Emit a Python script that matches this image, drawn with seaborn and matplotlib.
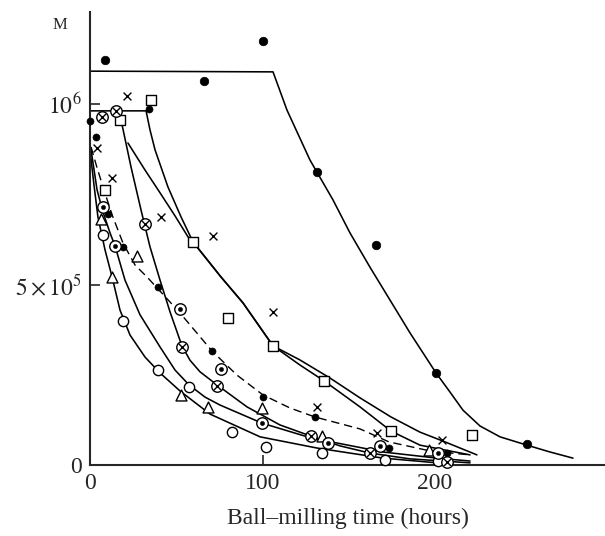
import matplotlib
matplotlib.use("Agg")
import matplotlib.pyplot as plt
import seaborn as sns

# values: hours, M in units of 1e5
# ---- drawn curves ----
top_hr = [0, 106.1, 114.2, 127.5, 140.9, 150.7, 162.3, 173.9, 185.5, 200.6, 208.7, 216.2, 226.1, 237.7, 253.3, 266.7, 280.0]
top_m = [10.91, 10.89, 9.83, 8.45, 7.34, 6.43, 5.48, 4.57, 3.66, 2.55, 2.02, 1.52, 1.08, 0.78, 0.55, 0.36, 0.19]

sq_hr = [0, 32.5, 34.8, 37.7, 45.2, 52.8, 59.7, 75.9, 88.7, 106.1, 121.7, 135.7, 156.5, 174.5, 191.3, 220.3]
sq_m = [9.81, 9.81, 9.28, 8.73, 7.70, 6.87, 6.18, 5.21, 4.49, 3.30, 2.77, 2.33, 1.61, 0.94, 0.55, 0.28]

cr_hr = [22.0, 31.9, 40.6, 49.3, 56.8, 59.7, 75.9, 88.7, 106.1, 121.7, 139.1, 156.5, 174.5, 191.3, 205.8, 224.3]
cr_m = [8.92, 8.17, 7.54, 6.90, 6.32, 6.18, 5.21, 4.49, 3.30, 2.91, 2.41, 1.86, 1.33, 0.91, 0.64, 0.28]

ox_hr = [18.6, 23.8, 29.6, 34.8, 40.6, 46.4, 53.3, 58.0, 63.8, 73.6, 91.0, 110.1, 128.1, 144.9, 162.3, 185.5, 220.3]
ox_m = [9.42, 8.25, 7.06, 6.04, 5.12, 4.24, 3.30, 2.90, 2.58, 2.22, 1.61, 1.11, 0.80, 0.53, 0.33, 0.17, 0.06]

da_hr = [0.6, 4.1, 8.1, 12.8, 19.1, 26.1, 33.0, 39.4, 52.2, 70.7, 85.2, 100.3, 115.9, 130.4, 156.5, 173.3, 197.1, 220.3]
da_m = [8.81, 8.23, 7.62, 6.93, 6.15, 5.54, 5.21, 4.88, 4.21, 3.16, 2.49, 1.94, 1.58, 1.33, 1.00, 0.64, 0.39, 0.28]

f1_hr = [0, 2.3, 4.6, 8.7, 12.8, 17.4, 23.2, 31.9, 40.6, 52.2, 69.6, 98.6, 131.6, 169.9, 201.2]
f1_m = [8.73, 7.76, 6.87, 5.96, 5.21, 4.29, 3.60, 2.99, 2.55, 2.05, 1.41, 0.78, 0.47, 0.19, 0.06]

f2_hr = [0.6, 4.1, 7.5, 11.6, 14.5, 20.3, 29.0, 40.6, 49.3, 57.4, 66.7, 75.4, 99.7, 128.1, 169.9, 201.2, 220.3]
f2_m = [8.73, 7.62, 7.01, 6.43, 6.07, 5.12, 4.16, 3.27, 2.63, 2.22, 1.88, 1.66, 1.16, 0.75, 0.36, 0.19, 0.11]

# ---- measured points ----
bigdot_hr = [8.7, 66.1, 100.3, 131.6, 165.8, 200.6, 253.3]
bigdot_m = [11.22, 10.64, 11.75, 8.12, 6.09, 2.55, 0.58]

dot_hr = [0, 3.3, 34.4, 10.4, 19.1, 39.2, 70.6, 100.5, 130.4, 173.3, 206.8]
dot_m = [9.54, 9.09, 9.85, 6.95, 6.05, 4.93, 3.16, 1.88, 1.33, 0.46, 0.34]

circ_hr = [7.7, 19.0, 39.2, 57.4, 82.1, 102.0, 134.7, 171.0, 201.9]
circ_m = [6.38, 4.00, 2.63, 2.15, 0.91, 0.51, 0.33, 0.15, 0.12]

tri_hr = [6.4, 12.9, 27.0, 52.5, 68.2, 99.5, 134.5, 196.6]
tri_m = [6.81, 5.21, 5.78, 1.93, 1.61, 1.58, 0.79, 0.42]

cdot_hr = [7.6, 14.4, 52.4, 75.9, 99.6, 138.1, 168.1, 202.0]
cdot_m = [7.16, 6.06, 4.32, 2.65, 1.16, 0.60, 0.52, 0.33]

cx_hr = [6.8, 15.1, 32.1, 53.4, 73.5, 128.1, 162.3, 207.2]
cx_m = [9.63, 9.81, 6.68, 3.28, 2.20, 0.80, 0.32, 0.07]

sqr_hr = [35.1, 17.6, 8.6, 59.7, 80.2, 106.3, 135.8, 174.5, 221.3]
sqr_m = [10.10, 9.56, 7.61, 6.18, 4.06, 3.30, 2.33, 0.94, 0.82]

x_hr = [21.3, 4.2, 12.5, 40.9, 71.3, 106.3, 131.4, 166.2, 203.9]
x_m = [10.23, 8.78, 7.94, 6.88, 6.34, 4.25, 1.61, 0.88, 0.68]

sns.set_style("ticks")
plt.rcParams['font.family'] = ['Liberation Serif', 'DejaVu Serif']
plt.rcParams['mathtext.fontset'] = 'stix'

fig = plt.figure(figsize=(6.05, 5.36), dpi=100)
ax = fig.add_axes([90/605, 71/536, 515/605, 453/536])

lw = 1.15
for hr, m in [(top_hr, top_m), (sq_hr, sq_m), (cr_hr, cr_m), (ox_hr, ox_m),
              (f1_hr, f1_m), (f2_hr, f2_m)]:
    sns.lineplot(x=hr, y=m, ax=ax, color='black', lw=lw, sort=False, estimator=None)
sns.lineplot(x=da_hr, y=da_m, ax=ax, color='black', lw=1.0, sort=False, estimator=None)
ax.lines[-1].set_dashes([6, 3.5])

open_kw = dict(facecolor='white', edgecolor='black', linewidth=1.0, zorder=4, clip_on=False, ax=ax)
sns.scatterplot(x=bigdot_hr, y=bigdot_m, marker='o', s=38, color='black', edgecolor='black', zorder=4, ax=ax)
sns.scatterplot(x=dot_hr, y=dot_m, marker='o', s=26, color='black', edgecolor='black', zorder=4, clip_on=False, ax=ax)
sns.scatterplot(x=circ_hr, y=circ_m, marker='o', s=55, **open_kw)
sns.scatterplot(x=tri_hr, y=tri_m, marker='^', s=62, **open_kw)
sns.scatterplot(x=sqr_hr, y=sqr_m, marker='s', s=50, **open_kw)
sns.scatterplot(x=cdot_hr, y=cdot_m, marker='o', s=68, **open_kw)
sns.scatterplot(x=cdot_hr, y=cdot_m, marker='o', s=10, color='black', edgecolor='black', zorder=5, ax=ax)
sns.scatterplot(x=cx_hr, y=cx_m, marker='o', s=68, **open_kw)
sns.scatterplot(x=cx_hr, y=cx_m, marker='x', s=28, color='black', linewidth=1.0, zorder=5, ax=ax)
sns.scatterplot(x=x_hr, y=x_m, marker='x', s=32, color='black', linewidth=1.0, zorder=4, ax=ax)

ax.set_xlim(0, 515/1.725)
ax.set_ylim(0, 453/36.1)
sns.despine(ax=ax)
for s in ['left', 'bottom']:
    ax.spines[s].set_linewidth(1.5)

ax.set_xticks([0, 100, 200])
ax.set_xticklabels(['0', '100', '200'])
ax.set_yticks([0, 5, 10])
ax.set_yticklabels(['0', r'$5\times10^5$', r'$10^6$'])
ax.tick_params(direction='in', length=7, width=1.2, labelsize=17, pad=6)
ax.set_xlabel('Ball\u2013milling time (hours)', fontsize=17, labelpad=10)
fig.text(60/605, 1 - 25/536, 'M', fontsize=12, ha='center', va='center')

fig.savefig('out.png', dpi=100)
